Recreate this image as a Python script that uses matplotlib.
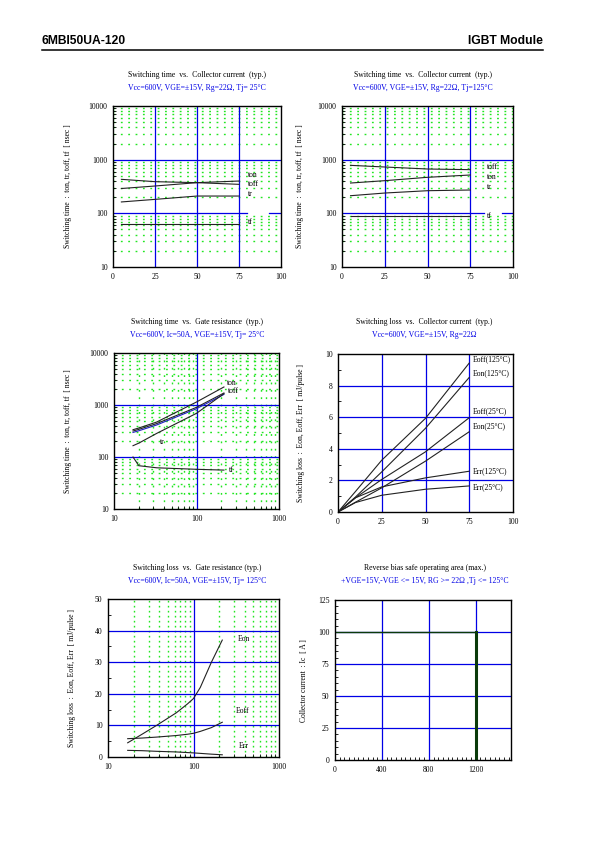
import numpy as np
import matplotlib
matplotlib.use("Agg")
import matplotlib.pyplot as plt
from matplotlib.ticker import NullFormatter, MultipleLocator

plt.rcParams['font.family'] = ['Liberation Serif', 'DejaVu Serif']

# --- data ---
# switching time vs collector current
ic = [5, 25, 50, 75]
ton_25 = [290, 323, 373, 400]
toff_25 = [430, 389, 373, 347]
tr_25 = [163, 182, 210, 210]
tf_25 = [63, 63, 63, 63]

ton_125 = [367, 406, 469, 518]
toff_125 = [784, 730, 670, 651]
tr_125 = [213, 239, 264, 272]
tf_125 = [88, 88, 88, 88]

# switching time vs gate resistance (Tj=25C)
rg = [17, 20, 33, 100, 215]
ton_rg = [335, 361, 471, 1142, 2220]
toff_rg = [316, 340, 440, 902, 1700]
tr_rg = [165, 185, 285, 692, 1652]
tf_rg = [100, 68, 62, 58, 56]

# switching loss vs collector current
ic_loss = [0, 10, 25, 50, 75]
eoff_125 = [0, 1.3, 3.28, 5.93, 9.43]
eon_125 = [0, 0.95, 2.54, 5.3, 8.52]
eoff_25 = [0, 0.9, 2.06, 3.81, 5.97]
eon_25 = [0, 0.62, 1.53, 3.22, 5.08]
err_125 = [0, 0.9, 1.59, 2.16, 2.58]
err_25 = [0, 0.6, 1.06, 1.44, 1.65]

# switching loss vs gate resistance (Tj=125C)
rg_loss = [17, 25, 37, 63, 85, 100, 120, 162, 217]
eon_rg = [4.5, 7.2, 10, 14, 16.8, 18.5, 22, 30, 37]
eoff_rg = [5.8, 6.0, 6.3, 6.8, 7.2, 7.5, 8.1, 9.3, 11.0]
err_rg = [2.1, 2.0, 1.8, 1.6, 1.4, 1.3, 1.15, 0.9, 0.7]

# RBSOA
vce_rb = [0, 1200, 1200]
ic_rb = [100, 100, 0]

BLUE = '#0000e6'
GREEN = '#22e622'
LINE = '#222222'
W, H = 595, 842


def ax_at(fig, x0, y0, x1, y1):
    return fig.add_axes([x0 / W, 1 - y1 / H, (x1 - x0) / W, (y1 - y0) / H])


def ftext(fig, x, y, s, **kw):
    fig.text(x / W, 1 - y / H, s, **kw)


def style(ax):
    for s in ax.spines.values():
        s.set_linewidth(1.0)
    ax.tick_params(which='both', direction='in', labelsize=5.5, width=0.6, pad=4)
    ax.tick_params(which='major', length=2.5)
    ax.tick_params(which='minor', length=2)
    ax.yaxis.set_minor_formatter(NullFormatter())
    ax.xaxis.set_minor_formatter(NullFormatter())


def titles(fig, cx, y, t1, t2):
    ftext(fig, cx, y, t1, ha='center', va='center', fontsize=5.6, color='black')
    ftext(fig, cx, y + 13, t2, ha='center', va='center', fontsize=5.6, color=BLUE)


def green_grid(ax, axis, dash=(1.3, 4.0)):
    ax.grid(which='minor', axis=axis, color=GREEN, lw=1.0, linestyle=(0, dash))


fig = plt.figure(figsize=(W / 100, H / 100), dpi=100)

# header
ftext(fig, 42, 41, '6MBI50UA-120', fontsize=8.7, fontweight='bold',
      family='Liberation Sans', ha='left', va='center')
ftext(fig, 543, 41, 'IGBT Module', fontsize=8.7, fontweight='bold',
      family='Liberation Sans', ha='right', va='center')
fig.add_artist(plt.Line2D([42 / W, 543 / W], [1 - 49.5 / H, 1 - 49.5 / H],
                          color='black', lw=1.1))

ylab_t = 'Switching time  :  ton, tr, toff, tf  [ nsec ]'
ylab_e = 'Switching loss  :  Eon, Eoff, Err  [ mJ/pulse ]'


def time_vs_ic(ax, on, off, tr, tf, gap, labels):
    style(ax)
    ax.set_yscale('log')
    ax.set_xlim(0, 100)
    ax.set_ylim(10, 10000)
    ax.set_xticks([0, 25, 50, 75, 100])
    ax.set_xticklabels(['0', '25', '50', '75', '100'])
    ax.set_yticks([10, 100, 1000, 10000])
    ax.set_yticklabels(['10', '100', '1000', '10000'])
    green_grid(ax, 'y')
    for v in [25, 50, 75]:
        ax.axvline(v, color=BLUE, lw=0.9)
    ax.axhline(1000, color=BLUE, lw=0.9)
    ax.axhline(100, 0, gap[0], color=BLUE, lw=0.9)
    ax.axhline(100, gap[1], 1, color=BLUE, lw=0.9)
    for ser in (on, off, tr, tf):
        ax.plot(ic, ser, color=LINE, lw=0.8)
    for (lx, ly, s) in labels:
        ax.text(lx, ly, s, fontsize=5.5, va='center', ha='left')


# panel 1
ax1 = ax_at(fig, 113, 106, 281, 267)
time_vs_ic(ax1, ton_25, toff_25, tr_25, tf_25, (0.80, 0.93),
           [(80.5, 518, 'ton'), (80.5, 357, 'toff'), (80.5, 232, 'tr'), (80.5, 69, 'tf')])
titles(fig, 197, 75, 'Switching time  vs.  Collector current  (typ.)',
       'Vcc=600V, VGE=±15V, Rg=22Ω, Tj= 25°C')
ftext(fig, 68, 186, ylab_t, rotation=90, ha='center', va='center', fontsize=5.5)

# panel 2
ax2 = ax_at(fig, 342, 106, 513, 267)
time_vs_ic(ax2, ton_125, toff_125, tr_125, tf_125, (0.83, 0.935),
           [(84.5, 720, 'toff'), (84.5, 469, 'ton'), (84.5, 305, 'tr'), (84.5, 88, 'tf')])
titles(fig, 423, 75, 'Switching time  vs.  Collector current  (typ.)',
       'Vcc=600V, VGE=±15V, Rg=22Ω, Tj=125°C')
ftext(fig, 300, 186, ylab_t, rotation=90, ha='center', va='center', fontsize=5.5)

# panel 3
ax3 = ax_at(fig, 114, 353, 279, 509)
style(ax3)
ax3.set_xscale('log')
ax3.set_yscale('log')
ax3.set_xlim(10, 1000)
ax3.set_ylim(10, 10000)
ax3.set_xticks([10, 100, 1000])
ax3.set_xticklabels(['10', '100', '1000'])
ax3.set_yticks([10, 100, 1000, 10000])
ax3.set_yticklabels(['10', '100', '1000', '10000'])
green_grid(ax3, 'both')
ax3.axvline(100, color=BLUE, lw=0.9)
ax3.axhline(100, color=BLUE, lw=0.9)
ax3.axhline(1000, color=BLUE, lw=0.9)
ax3.plot(rg, ton_rg, color=LINE, lw=0.8)
ax3.plot(rg, toff_rg, color=LINE, lw=0.8)
ax3.plot(rg, np.array(toff_rg) * 0.94, color='#2020c0', lw=0.8)
ax3.plot(rg, tr_rg, color=LINE, lw=0.8)
ax3.plot(rg, tf_rg, color=LINE, lw=0.8)
for (lx, ly, s) in [(235, 2640, 'ton'), (240, 1890, 'toff'), (36, 191, 'tr'), (250, 57, 'tf')]:
    ax3.text(lx, ly, s, fontsize=5.5, va='center', ha='left')
titles(fig, 197, 322, 'Switching time  vs.  Gate resistance  (typ.)',
       'Vcc=600V, Ic=50A, VGE=±15V, Tj= 25°C')
ftext(fig, 68, 431, ylab_t, rotation=90, ha='center', va='center', fontsize=5.5)

# panel 4
ax4 = ax_at(fig, 338, 354, 513, 512)
style(ax4)
ax4.set_xlim(0, 100)
ax4.set_ylim(0, 10)
ax4.set_xticks([0, 25, 50, 75, 100])
ax4.set_yticks([0, 2, 4, 6, 8, 10])
ax4.yaxis.set_minor_locator(MultipleLocator(1))
for v in [25, 50, 75]:
    ax4.axvline(v, color=BLUE, lw=0.9)
for v in [2, 4, 6, 8]:
    ax4.axhline(v, color=BLUE, lw=0.9)
for ser in (eoff_125, eon_125, eoff_25, eon_25, err_125, err_25):
    ax4.plot(ic_loss, ser, color=LINE, lw=0.8)
for (ly, s) in [(9.68, 'Eoff(125°C)'), (8.8, 'Eon(125°C)'), (6.36, 'Eoff(25°C)'),
                (5.4, 'Eon(25°C)'), (2.58, 'Err(125°C)'), (1.59, 'Err(25°C)')]:
    ax4.text(76.8, ly, s, fontsize=5.5, va='center', ha='left')
titles(fig, 424, 322, 'Switching loss  vs.  Collector current  (typ.)',
       'Vcc=600V, VGE=±15V, Rg=22Ω')
ftext(fig, 301, 433, ylab_e, rotation=90, ha='center', va='center', fontsize=5.5)

# panel 5
ax5 = ax_at(fig, 108, 599, 279, 757)
style(ax5)
ax5.set_xscale('log')
ax5.set_xlim(10, 1000)
ax5.set_ylim(0, 50)
ax5.set_xticks([10, 100, 1000])
ax5.set_xticklabels(['10', '100', '1000'])
ax5.set_yticks([0, 10, 20, 30, 40, 50])
ax5.yaxis.set_minor_locator(MultipleLocator(5))
green_grid(ax5, 'x', dash=(1.2, 2.4))
ax5.axvline(100, color=BLUE, lw=0.9)
for v in [10, 20, 30, 40]:
    ax5.axhline(v, color=BLUE, lw=0.9)
for ser in (eon_rg, eoff_rg, err_rg):
    ax5.plot(rg_loss, ser, color=LINE, lw=0.8)
for (lx, ly, s) in [(325, 37.3, 'Eon'), (312, 14.5, 'Eoff'), (335, 3.4, 'Err')]:
    ax5.text(lx, ly, s, fontsize=5.5, va='center', ha='left')
titles(fig, 197, 568, 'Switching loss  vs.  Gate resistance (typ.)',
       'Vcc=600V, Ic=50A, VGE=±15V, Tj= 125°C')
ftext(fig, 72, 678, ylab_e, rotation=90, ha='center', va='center', fontsize=5.5)

# panel 6
ax6 = ax_at(fig, 335, 600, 511, 760)
style(ax6)
ax6.set_xlim(0, 1500)
ax6.set_ylim(0, 125)
ax6.set_xticks([0, 400, 800, 1200])
ax6.set_yticks([0, 25, 50, 75, 100, 125])
ax6.xaxis.set_minor_locator(MultipleLocator(40))
ax6.yaxis.set_minor_locator(MultipleLocator(5))
for v in [400, 800, 1200]:
    ax6.axvline(v, color=BLUE, lw=0.9)
for v in [25, 50, 75, 100]:
    ax6.axhline(v, color=BLUE, lw=0.9)
ax6.plot(vce_rb, ic_rb, color='#0a3a0a', lw=1.0)
ax6.plot(vce_rb[1:], ic_rb[1:], color='#0a3a0a', lw=2.2)
titles(fig, 425, 568, 'Reverse bias safe operating area (max.)',
       '+VGE=15V,-VGE <= 15V, RG >= 22Ω ,Tj <= 125°C')
ftext(fig, 304, 681, 'Collector current  : Ic  [ A ]', rotation=90,
      ha='center', va='center', fontsize=5.5)

fig.savefig('out.png', dpi=100)
